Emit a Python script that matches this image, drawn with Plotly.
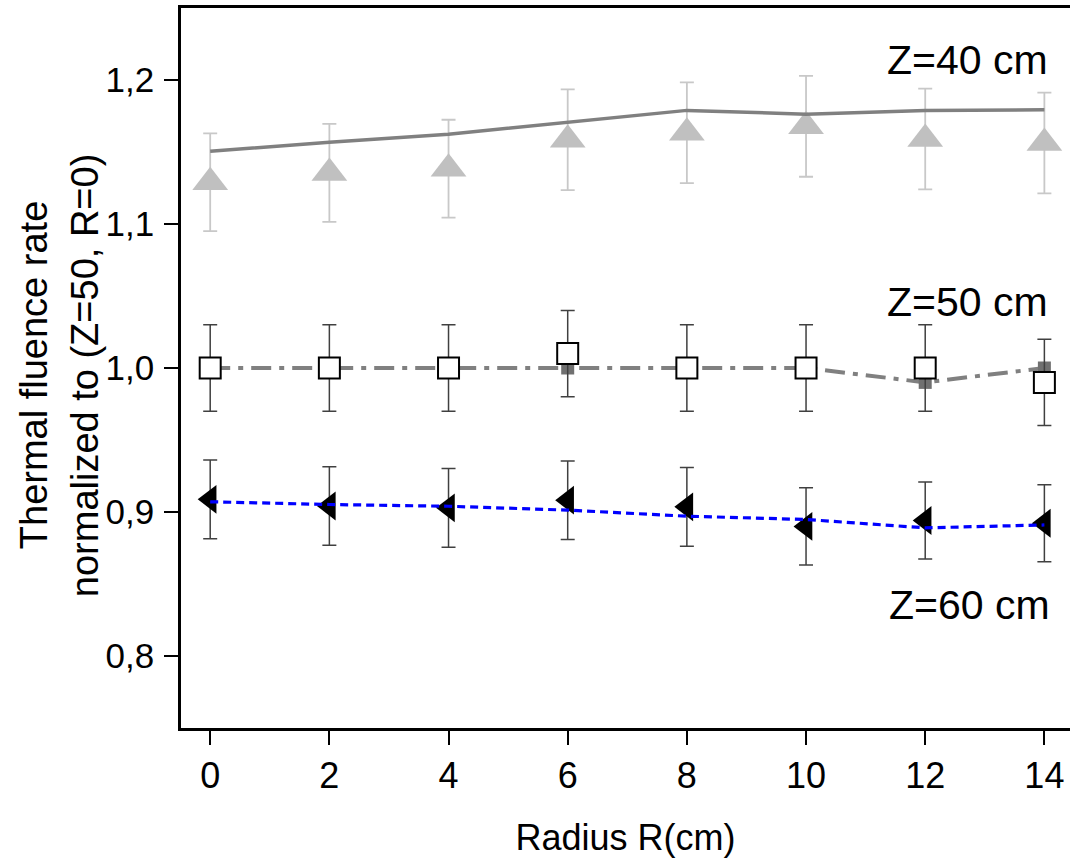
import plotly.graph_objects as go

radius = [0, 2, 4, 6, 8, 10, 12, 14]

# Z = 40 cm
z40_meas = [1.129, 1.1355, 1.1384, 1.1585, 1.1634, 1.1678, 1.159, 1.1562]
z40_err = [0.034, 0.034, 0.034, 0.035, 0.035, 0.035, 0.035, 0.035]
z40_line = [1.1505, 1.1568, 1.1624, 1.1705, 1.1789, 1.1763, 1.1789, 1.1793]

# Z = 50 cm
z50_meas = [1.0, 1.0, 1.0, 1.01, 1.0, 1.0, 1.0, 0.99]
z50_err = [0.03, 0.03, 0.03, 0.03, 0.03, 0.03, 0.03, 0.03]
z50_line = [1.0, 1.0, 1.0, 1.0, 1.0, 1.0, 0.99, 1.0]

# Z = 60 cm
z60_meas = [0.9088, 0.9042, 0.9029, 0.9082, 0.9036, 0.890, 0.8941, 0.8922]
z60_err = [0.0273, 0.0273, 0.0273, 0.0273, 0.0273, 0.0268, 0.0268, 0.0268]
z60_line = [0.9071, 0.9052, 0.904, 0.9013, 0.8971, 0.8948, 0.889, 0.891]

x_ticks = [0, 2, 4, 6, 8, 10, 12, 14]
y_ticks = [0.8, 0.9, 1.0, 1.1, 1.2]
y_ticktext = ["0,8", "0,9", "1,0", "1,1", "1,2"]

labels = ["Z=40 cm", "Z=50 cm", "Z=60 cm"]
y_title_lines = ["Thermal fluence rate", "normalized to (Z=50, R=0)"]

FONT = "Liberation Sans, Arial, sans-serif"

fig = go.Figure()

# Z=40
fig.add_trace(go.Scatter(
    x=radius, y=z40_meas, mode="markers",
    marker=dict(symbol="triangle-up", size=31, color="#c0c0c0"),
    error_y=dict(type="data", array=z40_err, color="#c8c8c8", thickness=1.8, width=7),
    showlegend=False, hoverinfo="skip"))
fig.add_trace(go.Scatter(
    x=radius, y=z40_line, mode="lines",
    line=dict(color="#808080", width=3.5),
    showlegend=False, hoverinfo="skip"))

# Z=50
fig.add_trace(go.Scatter(
    x=radius, y=z50_line, mode="lines+markers",
    line=dict(color="#808080", width=4, dash="20px,8px,5px,8px"),
    marker=dict(symbol="square", size=13, color="#707070"),
    showlegend=False, hoverinfo="skip"))
fig.add_trace(go.Scatter(
    x=radius, y=z50_meas, mode="markers",
    marker=dict(symbol="square", size=21, color="white",
                line=dict(color="black", width=2)),
    error_y=dict(type="data", array=z50_err, color="#404040", thickness=1.5, width=7),
    showlegend=False, hoverinfo="skip"))

# Z=60
fig.add_trace(go.Scatter(
    x=radius, y=z60_meas, mode="markers",
    marker=dict(symbol="triangle-left", size=25, color="black"),
    error_y=dict(type="data", array=z60_err, color="#404040", thickness=1.5, width=7),
    showlegend=False, hoverinfo="skip"))
fig.add_trace(go.Scatter(
    x=radius, y=z60_line, mode="lines",
    line=dict(color="#0000ff", width=3.2, dash="8px,5px"),
    showlegend=False, hoverinfo="skip"))

ann_pos = [(0.978, 0.928), (0.978, 0.592), (0.980, 0.171)]
for txt, (ax_, ay_) in zip(labels, ann_pos):
    fig.add_annotation(text=txt, xref="paper", yref="paper", x=ax_, y=ay_,
                       xanchor="right", yanchor="middle", showarrow=False,
                       font=dict(family=FONT, size=41, color="black"))

# two-line y-axis title, placed as rotated text in the left margin
for txt, px in zip(y_title_lines, [34, 85]):
    fig.add_annotation(text=txt, xref="paper", yref="paper",
                       x=(px - 181) / 889, y=0.49, xanchor="center", yanchor="middle",
                       textangle=-90, showarrow=False,
                       font=dict(family=FONT, size=38, color="black"))

fig.update_layout(
    width=1070, height=858,
    margin=dict(l=181, r=0, t=8, b=130),
    paper_bgcolor="white", plot_bgcolor="white",
    font=dict(family=FONT, color="black"),
    xaxis=dict(
        range=[-0.49, 14.43], tickvals=x_ticks, ticktext=[str(v) for v in x_ticks],
        showgrid=False, zeroline=False, showline=True, linecolor="black", linewidth=2.5,
        mirror=True, ticks="outside", ticklen=14, tickwidth=2, tickcolor="black",
        tickfont=dict(family=FONT, size=36, color="black"),
        title=dict(text="Radius R(cm)", font=dict(family=FONT, size=36, color="black"), standoff=30),
    ),
    yaxis=dict(
        range=[0.75, 1.25], tickvals=y_ticks, ticktext=y_ticktext,
        showgrid=False, zeroline=False, showline=True, linecolor="black", linewidth=2.5,
        ticks="outside", ticklen=14, tickwidth=2, tickcolor="black", ticklabelstandoff=3,
        tickfont=dict(family=FONT, size=35, color="black"),
    ),
)

fig.write_html("out.html")
